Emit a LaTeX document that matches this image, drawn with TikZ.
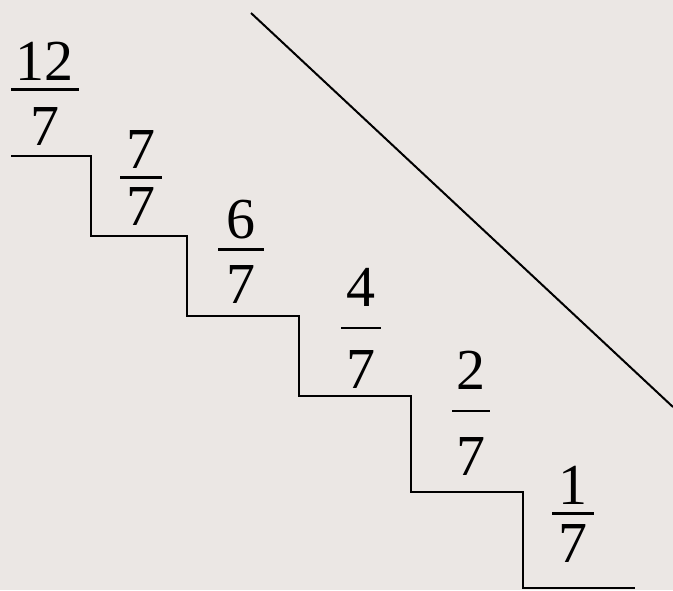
\documentclass[tikz,border=0pt]{standalone}
\usepackage{fontspec}
\newfontfamily\timesfont{Liberation Serif}
\definecolor{bg}{RGB}{235,231,228}
\begin{document}
\begin{tikzpicture}[x=1pt,y=1pt,
  dig/.style={inner sep=0pt,anchor=base,font=\timesfont\fontsize{58}{62}\selectfont},
  bar/.style={line width=3pt},
  edge/.style={line width=2pt}]
\fill[bg] (0,0) rectangle (673,-590);
\useasboundingbox (0,0) rectangle (673,-590);
% staircase
\draw[edge,line join=miter] (11,-156) -- (91,-156) -- (91,-236) -- (187,-236) -- (187,-316)
  -- (299,-316) -- (299,-396) -- (411,-396) -- (411,-492) -- (523,-492) -- (523,-588) -- (635,-588);
% diagonal
\draw[edge] (251,-13) -- (673,-407);
% 12/7
\node[dig] (n1) at (45,-80) {12};
\draw[bar] (11,-89) -- (79,-89);
\node[dig] (d1) at (45,-145) {7};
% 7/7
\node[dig] (n2) at (141,-168) {7};
\draw[bar] (120,-177) -- (162,-177);
\node[dig] (d2) at (141,-225) {7};
% 6/7
\node[dig] (n3) at (241,-238) {6};
\draw[bar] (218,-249) -- (264,-249);
\node[dig] (d3) at (241,-303) {7};
% 4/7
\node[dig] (n4) at (361,-306) {4};
\draw[bar,line width=2.2pt] (341,-328) -- (381,-328);
\node[dig] (d4) at (361,-388) {7};
% 2/7
\node[dig] (n5) at (471,-389) {2};
\draw[bar,line width=2.2pt] (452,-411) -- (490,-411);
\node[dig] (d5) at (471,-475) {7};
% 1/7
\node[dig] (n6) at (573,-504) {1};
\draw[bar] (552,-513) -- (594,-513);
\node[dig] (d6) at (573,-562) {7};
\end{tikzpicture}
\end{document}
